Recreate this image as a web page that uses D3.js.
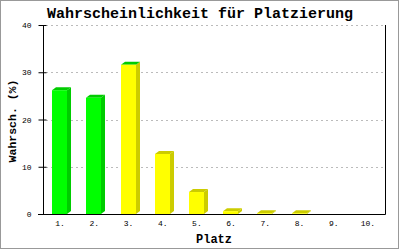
<!DOCTYPE html>
<html>
<head>
<meta charset="utf-8">
<script src="https://cdn.jsdelivr.net/npm/d3@7"></script>
<style>
  body { margin: 0; background: #fff; }
  text { font-family: "Liberation Mono", "DejaVu Sans Mono", monospace; fill: #000; }
</style>
</head>
<body>
<div id="chart"></div>
<script>
// data
var places = ["1.", "2.", "3.", "4.", "5.", "6.", "7.", "8.", "9.", "10."];
var percent = [26.2, 24.6, 31.6, 12.7, 4.65, 0.6, 0.15, 0.15, 0, 0];
var bodyGroup = ["g", "g", "y", "y", "y", "y", "y", "y", "y", "y"];
var topGroup = ["g", "g", "g", "y", "y", "y", "y", "y", "y", "y"];
var yTicks = [0, 10, 20, 30, 40];

var width = 400, height = 250;
var plot = { left: 43, right: 385, top: 25, bottom: 214 };
var depth = { dx: 4, dy: 3 };

var colors = {
    g: { front: "#00ff00", side: "#00cc00", top: "#00cc00" },
    y: { front: "#ffff00", side: "#cccc00", top: "#cccc00" }
};

var svg = d3.select("#chart").append("svg")
    .attr("width", width)
    .attr("height", height);

// outer frame
svg.append("rect")
    .attr("x", 0.5).attr("y", 0.5)
    .attr("width", 398).attr("height", 248)
    .attr("fill", "#fff")
    .attr("stroke", "#999");

var x = d3.scaleBand()
    .domain(places)
    .range([plot.left, plot.right]);

var y = d3.scaleLinear()
    .domain([0, 40])
    .range([plot.bottom, plot.top]);

// grid lines
svg.selectAll("line.grid")
    .data(yTicks.filter(function (t) { return t > 0; }))
    .enter().append("line")
    .attr("class", "grid")
    .attr("x1", plot.left + 3)
    .attr("x2", plot.right)
    .attr("y1", function (d) { return Math.round(y(d)) + 0.5; })
    .attr("y2", function (d) { return Math.round(y(d)) + 0.5; })
    .attr("stroke", "#bbb")
    .attr("stroke-dasharray", "2,3");

// bars (front, side, top)
var bw = x.bandwidth();
var bars = svg.selectAll("g.bar")
    .data(places.map(function (p, i) {
        return { place: p, value: percent[i], body: bodyGroup[i], top: topGroup[i] };
    }).filter(function (d) { return d.value > 0; }))
    .enter().append("g")
    .attr("class", "bar");

function barX(d) { return Math.round(x(d.place) + bw * 0.27); }
var frontW = Math.round(bw * 0.44);

bars.append("polygon")
    .attr("fill", function (d) { return colors[d.body].side; })
    .attr("points", function (d) {
        var x1 = barX(d) + frontW, yt = y(d.value), yb = y(0);
        return [[x1, yb], [x1 + depth.dx, yb - depth.dy], [x1 + depth.dx, yt - depth.dy], [x1, yt]].join(" ");
    });

bars.append("polygon")
    .attr("fill", function (d) { return colors[d.top].top; })
    .attr("points", function (d) {
        var x0 = barX(d), yt = y(d.value);
        return [[x0, yt], [x0 + depth.dx, yt - depth.dy], [x0 + frontW + depth.dx, yt - depth.dy], [x0 + frontW, yt]].join(" ");
    });

bars.append("rect")
    .attr("fill", function (d) { return colors[d.body].front; })
    .attr("x", barX)
    .attr("y", function (d) { return y(d.value); })
    .attr("width", frontW)
    .attr("height", function (d) { return y(0) - y(d.value); });

// axes
var yAxis = d3.axisLeft(y)
    .tickValues(yTicks)
    .tickSize(5)
    .tickPadding(7)
    .tickFormat(d3.format("d"));

var gy = svg.append("g")
    .attr("transform", "translate(" + (plot.left + 0.5) + ",0)")
    .call(yAxis);
gy.select(".domain").remove();
gy.selectAll(".tick line")
    .attr("x1", 3)
    .attr("stroke", "#000");
gy.selectAll(".tick text")
    .style("font-size", "8px");

svg.append("line")
    .attr("x1", plot.left + 0.5).attr("x2", plot.left + 0.5)
    .attr("y1", plot.top).attr("y2", plot.bottom)
    .attr("stroke", "#000");
svg.append("line")
    .attr("x1", plot.right + 0.5).attr("x2", plot.right + 0.5)
    .attr("y1", plot.top).attr("y2", plot.bottom + 0.5)
    .attr("stroke", "#000");
svg.append("line")
    .attr("x1", plot.left - 5).attr("x2", plot.right + 0.5)
    .attr("y1", plot.bottom + 0.5).attr("y2", plot.bottom + 0.5)
    .attr("stroke", "#000");

var xAxis = d3.axisBottom(x)
    .tickSize(0)
    .tickPadding(6);
var gx = svg.append("g")
    .attr("transform", "translate(0," + plot.bottom + ")")
    .call(xAxis);
gx.select(".domain").remove();
gx.selectAll(".tick text")
    .style("font-size", "8px");

// titles
svg.append("text")
    .attr("x", 200)
    .attr("y", 18)
    .attr("text-anchor", "middle")
    .style("font-size", "15px")
    .style("font-weight", "bold")
    .text("Wahrscheinlichkeit für Platzierung");

svg.append("text")
    .attr("x", (plot.left + plot.right) / 2)
    .attr("y", 243)
    .attr("text-anchor", "middle")
    .style("font-size", "12px")
    .style("font-weight", "bold")
    .text("Platz");

svg.append("text")
    .attr("transform", "translate(16,121) rotate(-90)")
    .attr("text-anchor", "middle")
    .style("font-size", "11.5px")
    .style("font-weight", "bold")
    .text("Wahrsch. (%)");
</script>
</body>
</html>
